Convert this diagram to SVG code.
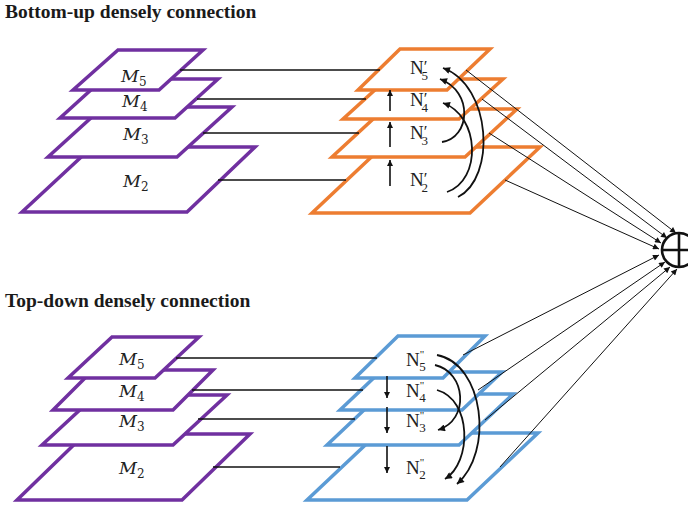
<svg xmlns="http://www.w3.org/2000/svg" width="688" height="505" viewBox="0 0 688 505">
<style>
.title{font-family:"Liberation Serif","Times New Roman",serif;font-weight:bold;font-size:19.5px;fill:#1a1a1a}
.pm{fill:#fff;stroke:#7030A0;stroke-width:3.5;stroke-linejoin:miter}
.po{fill:#fff;stroke:#ED7D31;stroke-width:3.5}
.pb{fill:#fff;stroke:#5B9BD5;stroke-width:3.5}
.ml{font-family:"DejaVu Serif","Liberation Serif",serif;font-style:italic;font-size:17.5px;fill:#222}
.nl{font-family:"Liberation Serif","Times New Roman",serif;font-size:19px;fill:#222}
.sub{font-style:normal;font-size:12px}
.h{stroke:#111;stroke-width:1.6;fill:none}
.t{stroke:#111;stroke-width:1;fill:none}
.c{stroke:#111;stroke-width:1.8;fill:none}
</style>
<defs>
<marker id="ah" viewBox="0 0 10 10" refX="10" refY="5" markerUnits="userSpaceOnUse" markerWidth="9" markerHeight="7" orient="auto"><path d="M0,0 L10,5 L0,10 z" fill="#111"/></marker>
<marker id="ahs" viewBox="0 0 10 10" refX="10" refY="5" markerUnits="userSpaceOnUse" markerWidth="8" markerHeight="6" orient="auto"><path d="M0,0 L10,5 L0,10 z" fill="#111"/></marker>
</defs>

<text class="title" x="5" y="18">Bottom-up densely connection</text>
<text class="title" x="5" y="307">Top-down densely connection</text>

<!-- top purple stack -->
<g id="tM2"><polygon class="pm" points="92,147 255,147 187,212 22,212"/><text class="ml" x="123" y="187">M<tspan class="sub" dy="4">2</tspan></text></g>
<g id="tM3"><polygon class="pm" points="103,107 232,107 177,157 48,157"/><text class="ml" x="123" y="140">M<tspan class="sub" dy="4">3</tspan></text></g>
<g id="tM4"><polygon class="pm" points="103,79 218,79 175,118 60,118"/><text class="ml" x="122" y="107">M<tspan class="sub" dy="4">4</tspan></text></g>
<g id="tM5"><polygon class="pm" points="118,50 203,50 159,90 73,90"/><text class="ml" x="121" y="82">M<tspan class="sub" dy="4">5</tspan></text></g>

<!-- top orange stack -->
<g id="tN2"><polygon class="po" points="382,147 540,147 470,213 312,213"/><text class="nl" x="410" y="186">N<tspan font-size="17" dy="-2">′</tspan><tspan font-size="13" dx="-6" dy="8">2</tspan></text></g>
<g id="tN3"><polygon class="po" points="384,109 517,109 465,157 332,157"/><text class="nl" x="410" y="139">N<tspan font-size="17" dy="-2">′</tspan><tspan font-size="13" dx="-6" dy="8">3</tspan></text></g>
<g id="tN4"><polygon class="po" points="387,79 503,79 459,119 343,119"/><text class="nl" x="410" y="106">N<tspan font-size="17" dy="-2">′</tspan><tspan font-size="13" dx="-6" dy="8">4</tspan></text></g>
<g id="tN5"><polygon class="po" points="400,49 490,49 447,90 358,90"/><text class="nl" x="410" y="74">N<tspan font-size="17" dy="-2">′</tspan><tspan font-size="13" dx="-6" dy="8">5</tspan></text></g>

<!-- bottom purple stack -->
<g id="bM2"><polygon class="pm" points="85,434 250,434 182,500 17,500"/><text class="ml" x="119" y="474">M<tspan class="sub" dy="4">2</tspan></text></g>
<g id="bM3"><polygon class="pm" points="96,395 227,395 173,445 42,445"/><text class="ml" x="119" y="427">M<tspan class="sub" dy="4">3</tspan></text></g>
<g id="bM4"><polygon class="pm" points="93,370 213,370 173,410 53,410"/><text class="ml" x="119" y="397">M<tspan class="sub" dy="4">4</tspan></text></g>
<g id="bM5"><polygon class="pm" points="112,337 199,337 155,378 68,378"/><text class="ml" x="119" y="365">M<tspan class="sub" dy="4">5</tspan></text></g>

<!-- bottom blue stack -->
<g id="bN2"><polygon class="pb" points="378,433 538,433 467,500 307,500"/><text class="nl" x="406" y="474">N<tspan font-size="11" dy="-8">"</tspan><tspan font-size="13" dx="-5" dy="13">2</tspan></text></g>
<g id="bN3"><polygon class="pb" points="381,394 513,394 459,445 327,445"/><text class="nl" x="406" y="427">N<tspan font-size="11" dy="-8">"</tspan><tspan font-size="13" dx="-5" dy="13">3</tspan></text></g>
<g id="bN4"><polygon class="pb" points="380,372 502,372 462,410 340,410"/><text class="nl" x="406" y="397">N<tspan font-size="11" dy="-8">"</tspan><tspan font-size="13" dx="-5" dy="13">4</tspan></text></g>
<g id="bN5"><polygon class="pb" points="398,336 485,336 443,378 355,378"/><text class="nl" x="406" y="366">N<tspan font-size="11" dy="-8">"</tspan><tspan font-size="13" dx="-5" dy="13">5</tspan></text></g>

<!-- sum node -->
<g id="sum">
<circle cx="679" cy="250" r="17" fill="#fff" stroke="#111" stroke-width="2.6"/>
<line x1="679" y1="233" x2="679" y2="267" stroke="#111" stroke-width="2.6"/>
<line x1="662" y1="250" x2="696" y2="250" stroke="#111" stroke-width="2.6"/>
</g>

<g id="connectors">
<line class="h" x1="180" y1="70" x2="380" y2="70"/>
<line class="h" x1="197" y1="99" x2="366" y2="99"/>
<line class="h" x1="203" y1="133" x2="359" y2="133"/>
<line class="h" x1="218" y1="180" x2="346" y2="180"/>
<line class="h" x1="176" y1="358" x2="377" y2="358"/>
<line class="h" x1="192" y1="390" x2="363" y2="390"/>
<line class="h" x1="198" y1="419" x2="355" y2="419"/>
<line class="h" x1="213" y1="467" x2="340" y2="467"/>
<line class="h" x1="390" y1="111" x2="390" y2="90" marker-end="url(#ahs)"/>
<line class="h" x1="390" y1="147" x2="390" y2="122" marker-end="url(#ahs)"/>
<line class="h" x1="390" y1="186" x2="390" y2="160" marker-end="url(#ahs)"/>
<line class="h" x1="387" y1="376" x2="387" y2="398" marker-end="url(#ahs)"/>
<line class="h" x1="387" y1="407" x2="387" y2="433" marker-end="url(#ahs)"/>
<line class="h" x1="387" y1="446" x2="387" y2="473" marker-end="url(#ahs)"/>
<path class="c" d="M442,142 C470,138 474,92 440,79" marker-end="url(#ah)"/>
<path class="c" d="M447,192 C482,180 480,116 443,103" marker-end="url(#ah)"/>
<path class="c" d="M458,197 C496,178 492,86 443,68" marker-end="url(#ah)"/>
<path class="c" d="M435,365 C466,372 470,420 438,430" marker-end="url(#ah)"/>
<path class="c" d="M437,390 C472,400 472,462 445,479" marker-end="url(#ah)"/>
<path class="c" d="M437,355 C484,364 494,452 457,484" marker-end="url(#ah)"/>
<line class="t" x1="466" y1="70" x2="676" y2="233" marker-end="url(#ahs)"/>
<line class="t" x1="482" y1="99" x2="667" y2="238" marker-end="url(#ahs)"/>
<line class="t" x1="489" y1="133" x2="661" y2="243" marker-end="url(#ahs)"/>
<line class="t" x1="505" y1="180" x2="659" y2="249" marker-end="url(#ahs)"/>
<line class="t" x1="463" y1="355" x2="659" y2="255" marker-end="url(#ahs)"/>
<line class="t" x1="478" y1="390" x2="665" y2="262" marker-end="url(#ahs)"/>
<line class="t" x1="485" y1="420" x2="670" y2="267" marker-end="url(#ahs)"/>
<line class="t" x1="500" y1="467" x2="677" y2="269" marker-end="url(#ahs)"/>
</g>
</svg>
